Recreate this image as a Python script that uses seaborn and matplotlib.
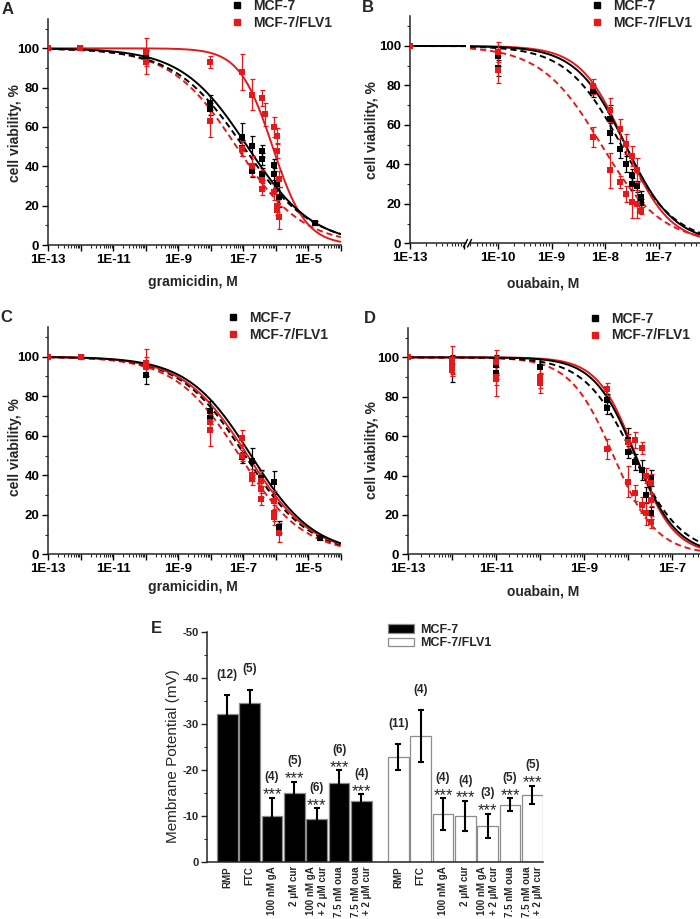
import numpy as np
import pandas as pd
import matplotlib
matplotlib.use("Agg")
import matplotlib.pyplot as plt
import seaborn as sns
from matplotlib.lines import Line2D
from matplotlib.ticker import FixedLocator, FuncFormatter, LogLocator, NullFormatter

sns.set_theme(style="ticks")
plt.rcParams["font.family"] = ["Liberation Sans", "DejaVu Sans"]
plt.rcParams["font.weight"] = "bold"
plt.rcParams["axes.unicode_minus"] = False
plt.rcParams["axes.linewidth"] = 1.1

BLACK = "#000000"
RED = "#e3191c"
LINES = ["MCF-7", "MCF-7/FLV1"]

# ---------------- data: cell viability (log10 concentration, %, s.d.) ----------------
A_black_logx = [-10, -8.03, -8.03, -7.03, -7.03, -6.74, -6.74, -6.44, -6.44, -6.44, -6.06, -6.06, -5.97, -5.89, -4.79]
A_black_y = [95.8, 72.4, 69, 54.9, 49.5, 50.5, 37.5, 47.8, 43.7, 36, 40.7, 36, 31, 24.5, 11]
A_black_err = [3, 4, 3, 7, 4, 5, 3, 3, 3, 3, 3, 3, 3, 5, 1]
A_red_logx = [-13, -12.03, -10, -10, -8.03, -8.03, -7.03, -7.03, -6.74, -6.74, -6.44, -6.33, -6.44, -6.44,
              -6.06, -6.06, -5.97, -5.97, -5.97, -5.97, -5.89, -5.89]
A_red_y = [100, 100, 98, 93, 93.2, 63, 88, 49, 76.4, 40, 74.6, 66.4, 33, 28.5, 60, 27, 55.6, 48, 20, 18, 33.6, 14]
A_red_err = [0, 1, 7, 6, 3, 8, 9, 4, 8, 5, 4, 6, 5, 3, 5, 4, 4, 4, 3, 3, 4, 6]
# fitted curves: (log10 IC50, Hill slope)
A_fit_black = (-6.87, 0.43)
A_fit_black_d = (-7.00, 0.41)
A_fit_red = (-6.10, 0.85)
A_fit_red_d = (-7.21, 0.43)

B_black_logx = [-10, -10, -8.22, -7.91, -7.91, -7.72, -7.6, -7.49, -7.49, -7.41, -7.33, -7.33]
B_black_y = [95, 89, 77, 63, 56, 48, 40, 34.7, 30, 28.8, 23.7, 20.6]
B_black_err = [5, 4, 3, 7, 5, 5, 4, 3, 3, 3, 3, 2]
B_red_logx = [-13, -10, -10, -8.22, -8.22, -7.91, -7.91, -7.72, -7.72, -7.6, -7.6, -7.49, -7.49, -7.41, -7.41, -7.33]
B_red_y = [100, 97, 88, 79.5, 53.8, 67.7, 37, 57.9, 31, 50.4, 24.8, 44.3, 21, 37.2, 20, 16.6]
B_red_err = [0, 5, 7, 4, 5, 6, 9, 5, 3, 5, 4, 5, 8, 6, 7, 2]
B_fit_black = (-7.62, 0.95)
B_fit_black_d = (-7.70, 0.85)
B_fit_red = (-7.62, 1.05)
B_fit_red_d = (-8.07, 0.77)

C_black_logx = [-10, -8.03, -8.03, -7.03, -6.74, -6.46, -6.06, -5.89, -4.64]
C_black_y = [91, 72.5, 69, 49, 47, 38.6, 36.4, 14, 8]
C_black_err = [5, 5, 3, 3, 7, 4, 6, 3, 1]
C_red_logx = [-13, -12, -10, -10, -8.03, -8.03, -7.03, -7.03, -6.74, -6.74, -6.46, -6.46, -6.46, -6.06, -6.06, -6.06, -5.89]
C_red_y = [100, 100, 97, 95, 67, 63, 59, 50, 40, 38, 37, 33, 28, 27, 21, 19, 11]
C_red_err = [0, 1, 7, 5, 4, 8, 4, 3, 3, 3, 5, 4, 3, 5, 4, 4, 5]
C_fit_black = (-6.76, 0.445)
C_fit_black_d = (-6.95, 0.44)
C_fit_red = (-6.87, 0.44)
C_fit_red_d = (-7.12, 0.44)

D_black_logx = [-12, -11, -11, -10, -8.48, -8.48, -7.99, -7.99, -7.84, -7.69, -7.58, -7.47, -7.47]
D_black_y = [94.4, 96, 91.9, 95.3, 78.3, 74.1, 58, 52, 47, 42.8, 30, 38.6, 20.8]
D_black_err = [7, 5, 3, 4, 3, 3, 6, 3, 4, 5, 4, 4, 3]
D_red_logx = [-13, -12, -12, -12, -11, -11, -11, -10, -10, -8.48, -8.48, -7.99, -7.99, -7.84, -7.84,
              -7.69, -7.69, -7.58, -7.58, -7.47, -7.47, -7.47]
D_red_y = [100, 98.6, 96, 93.6, 97.8, 90.2, 89, 90.2, 86.8, 83.8, 53.3, 57.2, 36.9, 58, 31, 53.8, 25, 40, 20.8, 36, 27.6, 16.6]
D_red_err = [0, 7, 4, 3, 6, 10, 3, 6, 5, 3, 5, 4, 8, 4, 4, 3, 4, 4, 6, 5, 3, 3]
D_fit_black = (-7.83, 0.92)
D_fit_black_d = (-7.88, 0.78)
D_fit_red = (-7.82, 1.00)
D_fit_red_d = (-8.33, 0.88)

# ---------------- data: membrane potential ----------------
E_labels = ["RMP", "FTC", "100 nM gA", "2 \u03bcM cur", "100 nM gA\n+ 2 \u03bcM cur",
            "7.5 nM oua", "7.5 nM oua\n+ 2 \u03bcM cur"]
E_mcf7 = [-32.2, -34.6, -10.1, -14.9, -9.35, -17.2, -13.2]
E_mcf7_err = [4.0, 2.9, 3.9, 2.6, 2.3, 2.8, 1.6]
E_mcf7_n = ["(12)", "(5)", "(4)", "(5)", "(6)", "(6)", "(4)"]
E_flv1 = [-22.8, -27.4, -10.4, -10.0, -7.9, -12.5, -14.6]
E_flv1_err = [2.85, 5.7, 3.5, 3.3, 2.6, 1.35, 2.0]
E_flv1_n = ["(11)", "(4)", "(4)", "(4)", "(3)", "(5)", "(5)"]
E_sig = ["", "", "***", "***", "***", "***", "***"]

# ---------------- figure ----------------
W, H = 700, 919
fig = plt.figure(figsize=(W / 100, H / 100), dpi=100)


def add_ax(l, r, t, b):
    return fig.add_axes([l / W, 1 - b / H, (r - l) / W, (b - t) / H])


def hill(logx, p):
    logic50, n = p
    return 100.0 / (1.0 + 10.0 ** ((logx - logic50) * n))


def draw_viability(ax, lo, hi, fits, pts):
    ax.set_xscale("log")
    grid = np.linspace(lo, hi, 500)
    for p, color, dashed in fits:
        sns.lineplot(x=10 ** grid, y=hill(grid, p), ax=ax, color=color, linewidth=1.4, zorder=2)
        if dashed:
            ax.lines[-1].set_dashes((3.2, 2.0))
    for lx, y, e, color in pts:
        if len(lx) == 0:
            continue
        x = 10 ** np.asarray(lx, dtype=float)
        ax.errorbar(x, y, yerr=e, fmt="none", ecolor=color, elinewidth=0.9,
                    capsize=1.8, capthick=0.9, zorder=3)
        sns.scatterplot(x=x, y=y, ax=ax, color=color, marker="s", s=14,
                        linewidth=0, zorder=4, legend=False)
    ax.set_xlim(10 ** lo, 10 ** hi)
    ax.set_ylim(0, 115)


def style_axes(ax, lo_exp, hi_exp, label_exps, show_y=True):
    for s in ["top", "right"]:
        ax.spines[s].set_visible(False)
    majors = 10.0 ** np.arange(lo_exp, hi_exp + 1)
    ax.xaxis.set_major_locator(FixedLocator(majors))
    ax.xaxis.set_major_formatter(FuncFormatter(
        lambda v, p: f"1E{int(round(np.log10(v)))}" if int(round(np.log10(v))) in label_exps else ""))
    ax.xaxis.set_minor_locator(LogLocator(base=10, subs=np.arange(2, 10), numticks=200))
    ax.xaxis.set_minor_formatter(NullFormatter())
    if show_y:
        ax.yaxis.set_major_locator(FixedLocator([0, 20, 40, 60, 80, 100]))
        ax.yaxis.set_minor_locator(FixedLocator([10, 30, 50, 70, 90, 110]))
    else:
        ax.spines["left"].set_visible(False)
        ax.tick_params(axis="y", which="both", left=False, labelleft=False)
    ax.tick_params(which="major", direction="out", length=4, width=1.0, labelsize=9.5, pad=2.5, colors="black")
    ax.tick_params(which="minor", direction="out", length=2.2, width=0.8)
    ax.set_xlabel("")
    ax.set_ylabel("")


def legend_markers(ax, x_left, y_top):
    handles = [Line2D([], [], marker="s", color=c, linestyle="none", markersize=4.5) for c in (BLACK, RED)]
    ax.legend(handles, LINES, loc="upper left", bbox_to_anchor=(x_left / W, 1 - y_top / H),
              bbox_transform=fig.transFigure, frameon=False, fontsize=10, handlelength=1.0,
              handletextpad=0.7, borderpad=0, borderaxespad=0, labelspacing=0.2)


def label(x, y, s, **kw):
    fig.text(x / W, 1 - y / H, s, ha="center", va="center", **kw)


# ---- Panel A ----
axA = add_ax(48.3, 340.8, 18.8, 245)
draw_viability(axA, -13, -4,
               [(A_fit_red_d, RED, True), (A_fit_black_d, BLACK, True), (A_fit_red, RED, False), (A_fit_black, BLACK, False)],
               [(A_black_logx, A_black_y, A_black_err, BLACK), (A_red_logx, A_red_y, A_red_err, RED)])
style_axes(axA, -13, -4, {-13, -11, -9, -7, -5})
legend_markers(axA, 229.8, -0.7)

# ---- Panel B (broken axis) ----
b_lo_right = -10 + (470 - 498) / 53.5
b_hi_right = -10 + (700 - 498) / 53.5
b_hi_left = -13 + (466 - 410) / 53.5
axB1 = add_ax(410, 466, 16.4, 243.3)
axB2 = add_ax(470, 700, 16.4, 243.3)
fitsB = [(B_fit_red_d, RED, True), (B_fit_black_d, BLACK, True), (B_fit_red, RED, False), (B_fit_black, BLACK, False)]
left_mask = [i for i, v in enumerate(B_red_logx) if v < -12]
right_mask = [i for i, v in enumerate(B_red_logx) if v >= -12]
draw_viability(axB1, -13, b_hi_left, fitsB,
               [([B_red_logx[i] for i in left_mask], [B_red_y[i] for i in left_mask],
                 [B_red_err[i] for i in left_mask], RED)])
draw_viability(axB2, b_lo_right, b_hi_right, fitsB,
               [(B_black_logx, B_black_y, B_black_err, BLACK),
                ([B_red_logx[i] for i in right_mask], [B_red_y[i] for i in right_mask],
                 [B_red_err[i] for i in right_mask], RED)])
style_axes(axB1, -13, -12, {-13})
style_axes(axB2, -11, -6, {-10, -9, -8, -7}, show_y=False)
for x0 in (463.5, 467.5):
    fig.add_artist(Line2D([x0 / W, (x0 + 4) / W], [1 - 247 / H, 1 - 239.5 / H], color="black", lw=1.0))
legend_markers(axB2, 589.8, -0.7)

# ---- Panel C ----
axC = add_ax(48.3, 340.8, 327.1, 554.3)
draw_viability(axC, -13, -4,
               [(C_fit_red_d, RED, True), (C_fit_black_d, BLACK, True), (C_fit_red, RED, False), (C_fit_black, BLACK, False)],
               [(C_black_logx, C_black_y, C_black_err, BLACK), (C_red_logx, C_red_y, C_red_err, RED)])
style_axes(axC, -13, -4, {-13, -11, -9, -7, -5})
legend_markers(axC, 226, 311)

# ---- Panel D ----
axD = add_ax(408, 700, 327.8, 554.3)
draw_viability(axD, -13, -13 + 292 / 44,
               [(D_fit_red_d, RED, True), (D_fit_black_d, BLACK, True), (D_fit_red, RED, False), (D_fit_black, BLACK, False)],
               [(D_black_logx, D_black_y, D_black_err, BLACK), (D_red_logx, D_red_y, D_red_err, RED)])
style_axes(axD, -13, -7, {-13, -11, -9, -7})
legend_markers(axD, 588, 311.6)

# axis labels and panel letters (A-D)
for (x, y) in [(15, 133), (371.7, 130), (15, 446.7), (371.7, 450)]:
    label(x, y, "cell viability, %", rotation=90, fontsize=10)
label(193, 282, "gramicidin, M", fontsize=10)
label(543, 283, "ouabain, M", fontsize=10)
label(193, 586.7, "gramicidin, M", fontsize=10)
label(543, 591.7, "ouabain, M", fontsize=10)
for s, x, y in [("A", 8, 9), ("B", 368.3, 7), ("C", 6, 317), ("D", 370, 318.3), ("E", 156, 628.3)]:
    label(x, y, s, fontsize=12)

# ---- Panel E ----
group_gap = 0.65
n_cond = len(E_labels)
pos_m = [float(i) for i in range(n_cond)]
pos_f = [n_cond + group_gap + i for i in range(n_cond)]
dfE = pd.DataFrame({
    "pos": pos_m + pos_f,
    "val": E_mcf7 + E_flv1,
    "err": E_mcf7_err + E_flv1_err,
    "line": [LINES[0]] * n_cond + [LINES[1]] * n_cond,
})
axE = add_ax(207, 542.7, 632, 862)
sns.barplot(data=dfE, x="pos", y="val", hue="line", palette={LINES[0]: "black", LINES[1]: "white"},
            native_scale=True, dodge=False, width=0.93, edgecolor="#8c8c8c", linewidth=0.9,
            errorbar=None, saturation=1, ax=axE)
axE.errorbar(dfE["pos"], dfE["val"], yerr=dfE["err"], fmt="none", ecolor="black",
             elinewidth=1.5, capsize=2.0, capthick=1.5, zorder=5)
for pos, val, err, n_lab, sig in zip(dfE["pos"], dfE["val"], dfE["err"], E_mcf7_n + E_flv1_n, E_sig + E_sig):
    cap = val - err
    axE.text(pos, cap - 4.4, n_lab, ha="center", va="center", fontsize=8.5, fontweight="bold")
    if sig:
        axE.text(pos, cap - 0.6, sig, ha="center", va="center", fontsize=12, fontweight="normal")
axE.set_xlim(-0.91, 14.11)
axE.set_ylim(0, -50)
for s in ["top", "right"]:
    axE.spines[s].set_visible(False)
axE.yaxis.set_major_locator(FixedLocator([0, -10, -20, -30, -40, -50]))
axE.yaxis.set_minor_locator(FixedLocator([-5, -15, -25, -35, -45]))
axE.tick_params(axis="y", which="major", direction="out", length=4, width=1.0, labelsize=8, pad=2)
axE.tick_params(axis="y", which="minor", direction="out", length=2.5, width=0.8)
axE.set_xticks(pos_m + pos_f)
axE.set_xticklabels(E_labels + E_labels, rotation=90, fontsize=7, fontweight="bold")
for t in axE.get_xticklabels():
    t.set_multialignment("right")
axE.tick_params(axis="x", length=0, pad=3)
axE.set_xlabel("")
axE.set_ylabel("")
handles, labels = axE.get_legend_handles_labels()
axE.legend(handles, labels, loc="upper left", bbox_to_anchor=(388.3 / W, 1 - 624 / H),
           bbox_transform=fig.transFigure, frameon=False, fontsize=9, handlelength=2.06,
           handleheight=0.66, handletextpad=0.48, borderpad=0, borderaxespad=0, labelspacing=0.1)
label(173.5, 756.5, "Membrane Potential (mV)", rotation=90, fontsize=11, fontweight="normal")

fig.savefig("out.png", dpi=100)
